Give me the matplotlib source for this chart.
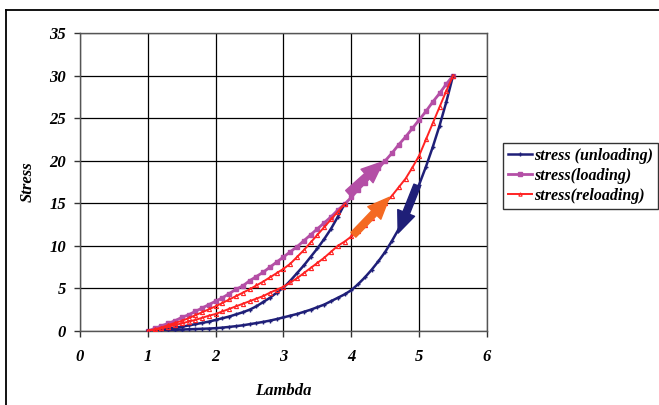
import numpy as np
import matplotlib.pyplot as plt
from matplotlib.lines import Line2D

# lambda grids: first cycle stops at 3.9, second goes to 5.5
lam_long = [1.0, 1.1, 1.2, 1.3, 1.4, 1.5, 1.6, 1.7, 1.8, 1.9,
            2.0, 2.1, 2.2, 2.3, 2.4, 2.5, 2.6, 2.7, 2.8, 2.9,
            3.0, 3.1, 3.2, 3.3, 3.4, 3.5, 3.6, 3.7, 3.8, 3.9,
            4.0, 4.1, 4.2, 4.3, 4.4, 4.5, 4.6, 4.7, 4.8, 4.9,
            5.0, 5.1, 5.2, 5.3, 5.4, 5.5]
lam_short = lam_long[:30]

loading = [0.0, 0.3, 0.6, 0.9, 1.2, 1.6, 1.9, 2.3, 2.7, 3.1,
           3.5, 3.9, 4.4, 4.9, 5.3, 5.9, 6.4, 6.9, 7.5, 8.1,
           8.7, 9.3, 9.9, 10.6, 11.3, 12.0, 12.7, 13.4, 14.2, 14.9,
           15.7, 16.6, 17.4, 18.3, 19.1, 20.0, 20.9, 21.9, 22.8, 23.8,
           24.8, 25.8, 26.9, 27.9, 29.0, 30.0]

unload_1 = [0.0, 0.1, 0.2, 0.3, 0.4, 0.5, 0.65, 0.8, 0.95, 1.1,
            1.3, 1.5, 1.7, 1.95, 2.2, 2.5, 2.9, 3.4, 3.9, 4.5,
            5.1, 5.9, 6.8, 7.7, 8.7, 9.7, 10.8, 12.0, 13.4, 14.9]
unload_2 = [0.0, 0.03, 0.06, 0.1, 0.13, 0.17, 0.2, 0.23, 0.26, 0.29,
            0.33, 0.4, 0.48, 0.57, 0.67, 0.8, 0.93, 1.07, 1.22, 1.4,
            1.6, 1.8, 2.0, 2.25, 2.5, 2.8, 3.1, 3.5, 3.9, 4.3,
            4.8, 5.5, 6.3, 7.2, 8.2, 9.3, 10.6, 12.0, 13.6, 15.3,
            17.2, 19.3, 21.6, 24.1, 26.9, 30.0]

reload_1 = [0.0, 0.2, 0.4, 0.7, 0.95, 1.2, 1.5, 1.85, 2.2, 2.55,
            2.9, 3.3, 3.7, 4.1, 4.5, 4.9, 5.35, 5.8, 6.3, 6.8,
            7.3, 7.9, 8.7, 9.5, 10.4, 11.3, 12.2, 13.1, 14.0, 14.9]
reload_2 = [0.0, 0.15, 0.3, 0.5, 0.7, 0.9, 1.1, 1.3, 1.55, 1.8,
            2.0, 2.3, 2.6, 2.9, 3.2, 3.5, 3.8, 4.1, 4.5, 4.85,
            5.2, 5.7, 6.2, 6.8, 7.4, 8.0, 8.6, 9.3, 10.0, 10.5,
            11.1, 11.8, 12.5, 13.3, 14.1, 15.0, 15.9, 16.9, 17.9, 19.2,
            20.6, 22.5, 24.4, 26.3, 28.2, 30.0]

navy = '#1f1f78'
purple = '#b44fa6'
red = '#ff2222'

font = {'family': 'Liberation Serif', 'weight': 'bold', 'style': 'italic'}

fig = plt.figure(figsize=(6.59, 4.05), dpi=100)
ax = fig.add_axes([80/659, 74/405, 407/659, 298/405])


def join(x1, y1, x2, y2):
    # two branches of one series, split by a gap
    x = np.concatenate([x1, [np.nan], x2])
    y = np.concatenate([y1, [np.nan], y2])
    return x, y


x, y = join(lam_short, unload_1, lam_long, unload_2)
ax.plot(x, y, color=navy, lw=1.8, marker='+', ms=3, mew=1,
        label='stress (unloading)', zorder=3)
ax.plot(lam_long, loading, color=purple, lw=2.0, marker='s', ms=2.8,
        label='stress(loading)', zorder=2)
x, y = join(lam_short, reload_1, lam_long, reload_2)
ax.plot(x, y, color=red, lw=1.4, marker='^', ms=3, mfc='none', mew=0.8,
        label='stress(reloading)', zorder=4)

# direction arrows
arrows = [((3.95, 16.2), (4.47, 19.9), purple),
          ((4.03, 11.3), (4.56, 15.7), '#f46a22'),
          ((4.97, 17.1), (4.69, 11.5), navy)]
for tail, tip, c in arrows:
    ax.annotate('', xy=tip, xytext=tail,
                arrowprops=dict(arrowstyle='simple,head_length=1.2,head_width=1.0,tail_width=0.38',
                                mutation_scale=13, color=c, shrinkA=0, shrinkB=0),
                zorder=5)

ax.set_xlim(0, 6)
ax.set_ylim(0, 35)
ax.set_xticks(range(0, 7))
ax.set_yticks(range(0, 36, 5))
ax.grid(True, color='black', lw=0.9)
ax.set_axisbelow(True)
for s in ax.spines.values():
    s.set_color('#555555')
    s.set_linewidth(1.0)
ax.tick_params(direction='out', length=4, width=1, color='#333333', pad=6)
for lab in ax.get_xticklabels() + ax.get_yticklabels():
    lab.set_fontproperties(font)
    lab.set_fontsize(12)
ax.tick_params(axis='x', pad=9)

ax.set_xlabel('Lambda', fontdict=font, fontsize=12, labelpad=13)
ax.set_ylabel('Stress', fontdict=font, fontsize=12, labelpad=10)

leg = ax.legend(loc='upper left', bbox_to_anchor=(503/659, 262/405),
                bbox_transform=fig.transFigure, borderaxespad=0,
                prop=dict(font, size=11.5), handlelength=1.5, handletextpad=0.15,
                labelspacing=0.25, borderpad=0.3, fancybox=False, markerscale=0.8)
leg.get_frame().set_edgecolor('black')
leg.get_frame().set_linewidth(1.0)

# outer chart frame (only top and left edges show)
fig.add_artist(Line2D([5.5/659, 5.5/659], [0, 1 - 9.5/405], color='black', lw=1.3))
fig.add_artist(Line2D([5.5/659, 1], [1 - 9.5/405, 1 - 9.5/405], color='black', lw=1.3))

fig.savefig('out.png', dpi=100)
